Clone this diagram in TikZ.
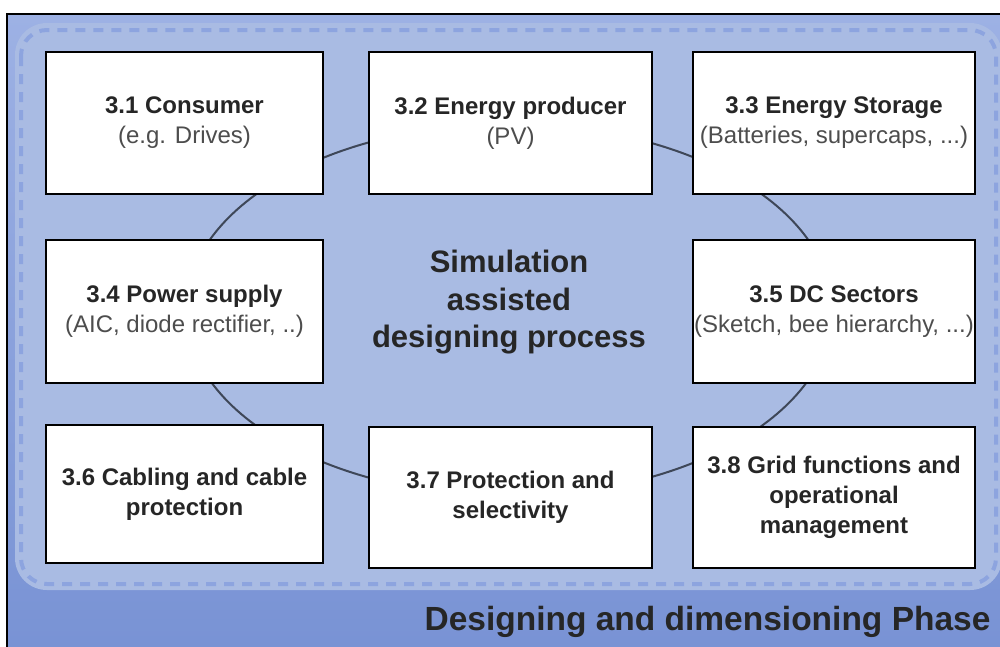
\documentclass[tikz,border=0pt]{standalone}
\usepackage{fontspec}
\setmainfont{Liberation Sans}
\usepackage{xcolor}
\usepackage{tikz}
\usetikzlibrary{positioning}

\definecolor{phasetop}{HTML}{9DB1E4}
\definecolor{phasebot}{HTML}{7892D4}
\definecolor{innerfill}{HTML}{A9BBE3}
\definecolor{dashblue}{HTML}{8DA4DF}
\definecolor{ringgray}{HTML}{3E4758}
\definecolor{txtdark}{HTML}{262626}
\definecolor{txtsub}{HTML}{4D4D4D}

\newcommand{\subline}[1]{{\color{txtsub}#1}}

\begin{document}
\begin{tikzpicture}[x=1pt, y=-1pt,
  box/.style={draw=black, line width=1.5pt, fill=white, inner sep=0pt, align=center,
    text=txtdark, font=\fontsize{24}{30}\selectfont},
  boldbox/.style={box, font=\fontsize{24}{30}\selectfont\bfseries}]

\useasboundingbox (0,0) rectangle (1000,646);
\clip (0,0) rectangle (1000,646);

% Phase frame
\shade[top color=phasetop, bottom color=phasebot] (7,14) rectangle (1012,662);
\draw[black, line width=2pt] (7,14) rectangle (1012,662);

% Inner dashed area
\fill[innerfill, rounded corners=32pt] (15,23) rectangle (1002,590);
\draw[dashblue, line width=4pt, dash pattern=on 10pt off 8pt, rounded corners=26pt] (21,30) rectangle (996,584);

% Designing cycle
\draw[ringgray, line width=2pt] (509,310) ellipse [x radius=323, y radius=186];

% Boxes
\node[box, minimum width=277pt, minimum height=142pt] (consumer) at (184.5,123)
  {\textbf{3.1 Consumer}\\\subline{(e.g. Drives)}};
\node[box, minimum width=283pt, minimum height=142pt] (producer) at (510.5,123)
  {\textbf{3.2 Energy producer}\\\subline{(PV)}};
\node[box, minimum width=282pt, minimum height=142pt] (storage) at (834,123)
  {\textbf{3.3 Energy Storage}\\\subline{(Batteries, supercaps, ...)}};
\node[box, minimum width=277pt, minimum height=143pt] (supply) at (184.5,311.5)
  {\textbf{3.4 Power supply}\\\subline{(AIC, diode rectifier, ..)}};
\node[box, minimum width=282pt, minimum height=143pt] (sectors) at (834,311.5)
  {\textbf{3.5 DC Sectors}\\\subline{(Sketch, bee hierarchy, ...)}};
\node[boldbox, minimum width=277pt, minimum height=138pt] (cabling) at (184.5,494)
  {3.6 Cabling and cable\\protection};
\node[boldbox, minimum width=283pt, minimum height=141pt] (protection) at (510.5,497.5)
  {3.7 Protection and\\selectivity};
\node[boldbox, minimum width=282pt, minimum height=141pt] (grid) at (834,497.5)
  {3.8 Grid functions and\\operational\\management};

% Labels
\node[align=center, text=txtdark, font=\fontsize{31}{37.5}\selectfont\bfseries] (process) at (509,302.5)
  {Simulation\\assisted\\designing process};
\node[text=txtdark, inner sep=0pt, font=\fontsize{33.5}{40}\selectfont\bfseries] (phase) at (707.5,622)
  {Designing and dimensioning Phase};

\end{tikzpicture}
\end{document}
